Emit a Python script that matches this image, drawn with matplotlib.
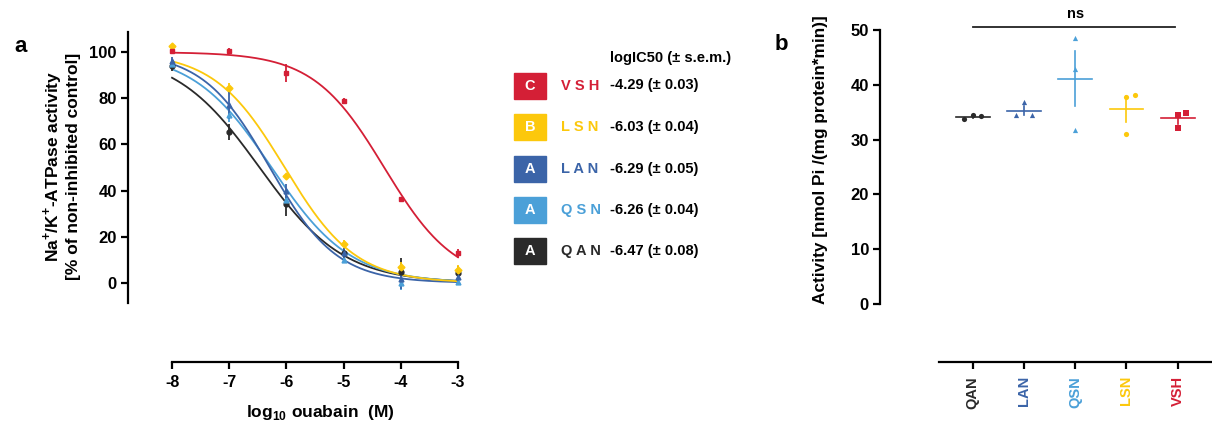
import numpy as np
import matplotlib.pyplot as plt
from matplotlib.patches import Rectangle

plt.rcParams['font.family'] = ['Liberation Sans', 'DejaVu Sans']
plt.rcParams['font.weight'] = 'bold'
plt.rcParams['axes.labelweight'] = 'bold'
plt.rcParams['axes.linewidth'] = 1.6
plt.rcParams['mathtext.fontset'] = 'custom'
plt.rcParams['mathtext.rm'] = 'Liberation Sans:bold'
plt.rcParams['mathtext.bf'] = 'Liberation Sans:bold'

W, H = 1212, 429

# ── data : panel a (dose-response) ─────────────────────────
log_conc = [-8, -7, -6, -5, -4, -3]
names   = ['VSH', 'LSN', 'LAN', 'QSN', 'QAN']
groups  = ['C', 'B', 'A', 'A', 'A']
colors  = ['#d41f36', '#fcc80c', '#3b64a8', '#4ba0d8', '#2a2a2a']
markers = ['s', 'D', '^', '^', 'o']

vsh_act = [100.5, 100.6, 91, 79, 36.4, 12.8]
vsh_err = [1, 1, 4, 1, 1, 2]
lsn_act = [102.5, 84.5, 46.4, 16.9, 7.0, 5.6]
lsn_err = [1, 2, 1, 1.5, 2, 2]
lan_act = [96, 77, 40, 13, 1.5, 2.5]
lan_err = [2, 6, 3, 2, 4, 2]
qsn_act = [95, 72.7, 36, 10, 0, 0.6]
qsn_err = [2, 3, 3, 1, 3, 1]
qan_act = [94, 65.5, 34, 13, 4.9, 4.3]
qan_err = [2, 3.5, 5.2, 2, 6, 3]

log_ic50 = [-4.29, -6.03, -6.29, -6.26, -6.47]
ic50_sem = [0.03, 0.04, 0.05, 0.04, 0.08]
hill     = [0.70, 0.70, 0.74, 0.63, 0.59]

# ── data : panel b (basal activity) ────────────────────────
b_names  = ['QAN', 'LAN', 'QSN', 'LSN', 'VSH']
b_colors = ['#2a2a2a', '#3b64a8', '#4ba0d8', '#fcc80c', '#d41f36']
b_markers = ['o', '^', '^', 'o', 's']
qan_b = [33.8, 34.4, 34.3]
lan_b = [34.5, 36.9, 34.5]
qsn_b = [48.5, 42.8, 31.8]
lsn_b = [37.8, 38.1, 31.0]
vsh_b = [34.5, 34.9, 32.1]
b_mean = [34.2, 35.3, 41.1, 35.6, 33.9]
b_sem  = [0.2, 0.8, 5.0, 2.3, 1.0]
jitter = [[-0.17, 0, 0.17], [-0.16, 0, 0.16], [0, 0, 0], [0, 0.17, 0], [0, 0.16, 0]]


def px_axes(l, t, r, b):
    return fig.add_axes([l / W, 1 - b / H, (r - l) / W, (b - t) / H])


fig = plt.figure(figsize=(W / 100, H / 100), dpi=100)
over = fig.add_axes([0, 0, 1, 1], zorder=-1)
over.set_xlim(0, W); over.set_ylim(H, 0); over.axis('off')

# ── panel a ────────────────────────────────────────────────
ax = px_axes(128, 32, 462, 303)
ax.set_xlim(-8.77, -2.93)
ax.set_ylim(-8.7, 108.7)
xfit = np.linspace(-8, -3, 300)
acts = [vsh_act, lsn_act, lan_act, qsn_act, qan_act]
errs = [vsh_err, lsn_err, lan_err, qsn_err, qan_err]
order = [4, 3, 2, 1, 0]
for i in order:
    yfit = 100 / (1 + 10 ** (hill[i] * (xfit - log_ic50[i])))
    ax.plot(xfit, yfit, color=colors[i], lw=1.3, zorder=2)
    ax.errorbar(log_conc, acts[i], yerr=errs[i], fmt=markers[i], color=colors[i],
                ms=3.5, elinewidth=1.3, capsize=0, zorder=3)

ax.spines[['top', 'right']].set_visible(False)
ax.spines['bottom'].set_position(('outward', 42.5))
ax.spines['bottom'].set_bounds(-8, -3)
ax.spines['left'].set_bounds(-8.7, 108.7)
ax.set_xticks(log_conc)
ax.set_xticklabels([str(v) for v in log_conc])
ax.set_yticks([0, 20, 40, 60, 80, 100])
ax.tick_params(width=1.6, length=5, pad=3)
ax.tick_params(axis='y', labelsize=12)
ax.tick_params(axis='x', labelsize=11.5, pad=4)
ax.set_xlabel('log$_{10}$ ouabain  (M)', fontsize=12.5, labelpad=10)
ax.xaxis.set_label_coords(0.575, -0.37)
over.text(61, 166, 'Na$^{+}$/K$^{+}$-ATPase activity\n[% of non-inhibited control]',
          rotation=90, ha='center', va='center', fontsize=12.5, linespacing=1.1)
over.text(14, 47, 'a', fontsize=16, ha='left', va='center')

# legend with logIC50
over.text(610, 58, 'logIC50 (± s.e.m.)', fontsize=10.5, ha='left', va='center')
for k, y in enumerate([85.5, 127, 169, 210, 251]):
    over.add_patch(Rectangle((514, y - 13), 32, 26, color=colors[k]))
    over.text(530, y, groups[k], color='white', fontsize=10.5, ha='center', va='center')
    over.text(561, y, ' '.join(names[k]), color=colors[k], fontsize=10.5, ha='left', va='center')
    over.text(610, y, f'{log_ic50[k]:.2f} (± {ic50_sem[k]:.2f})', fontsize=10.5,
              ha='left', va='center')

# ── panel b ────────────────────────────────────────────────
bx = px_axes(880, 30, 1212, 304)
bx.set_xlim(-1.81, 4.67)
bx.set_ylim(0, 50)
b_vals = [qan_b, lan_b, qsn_b, lsn_b, vsh_b]
for j in range(5):
    xs = [j + d for d in jitter[j]]
    bx.scatter(xs, b_vals[j], marker=b_markers[j], s=14, color=b_colors[j], zorder=3,
               clip_on=False, linewidths=0)
    bx.plot([j - 0.33, j + 0.33], [b_mean[j], b_mean[j]], color=b_colors[j], lw=1.2)
    bx.plot([j, j], [b_mean[j] - b_sem[j], b_mean[j] + b_sem[j]], color=b_colors[j], lw=1.2)

bx.plot([0, 3.95], [50.5, 50.5], color='#222222', lw=1.3, clip_on=False)
bx.text(2, 51.6, 'ns', ha='center', va='bottom', fontsize=10.5)

bx.spines[['top', 'right']].set_visible(False)
bx.spines['bottom'].set_position(('outward', 41.8))
bx.spines['bottom'].set_bounds(-0.66, 4.67)
bx.set_xticks(range(5))
bx.set_xticklabels(b_names, rotation=90)
for lab, c in zip(bx.get_xticklabels(), b_colors):
    lab.set_color(c)
bx.set_yticks([0, 10, 20, 30, 40, 50])
bx.tick_params(width=1.6, length=5, pad=3)
bx.tick_params(axis='y', labelsize=12)
bx.tick_params(axis='x', labelsize=10.5, pad=5)
over.text(821, 160, 'Activity [nmol Pi /(mg protein*min)]', rotation=90,
          ha='center', va='center', fontsize=12.4)
over.text(775, 45, 'b', fontsize=16, ha='left', va='center')

fig.savefig('out.png', dpi=100)
